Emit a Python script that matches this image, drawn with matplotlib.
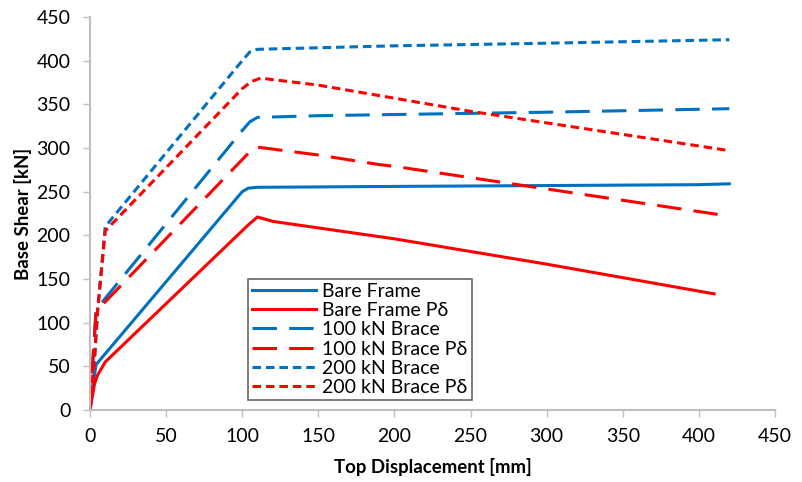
import matplotlib
matplotlib.use("Agg")
import matplotlib.pyplot as plt

plt.rcParams['font.family'] = ['Lato', 'DejaVu Sans']

# Data (Top displacement [mm], Base shear [kN])
bare_x = [0, 2, 4, 100, 104, 110, 200, 300, 400, 420]
bare_y = [0, 30, 52, 250, 254, 255, 256, 257, 258, 259]

bare_pd_x = [0, 3, 5, 10, 104, 110, 120, 200, 300, 410]
bare_pd_y = [0, 30, 40, 55, 212, 221, 216, 196, 167, 133]

b100_x = [0, 2, 4, 100, 105, 110, 150, 300, 420]
b100_y = [0, 60, 115, 320, 330, 335, 337, 341, 345]

b100_pd_x = [0, 2, 4, 104, 110, 150, 190, 200, 420]
b100_pd_y = [0, 60, 113, 294, 301, 292, 281, 279, 222]

b200_x = [0, 3, 5, 10, 100, 105, 110, 200, 300, 420]
b200_y = [0, 60, 115, 210, 400, 410, 413, 417, 420, 424]

b200_pd_x = [0, 3, 5, 10, 100, 106, 112, 150, 250, 420]
b200_pd_y = [0, 60, 113, 205, 368, 376, 380, 372, 342, 297]

x_ticks = [0, 50, 100, 150, 200, 250, 300, 350, 400, 450]
y_ticks = [0, 50, 100, 150, 200, 250, 300, 350, 400, 450]

blue = '#0070C0'
red = '#FF0000'

fig = plt.figure(figsize=(8.03, 4.82), dpi=100)
ax = fig.add_axes([90/803, (482-410)/482, 685/803, 393/482])

lw = 2.2
long_dash = (0, (8, 4))
short_dash = (0, (2.8, 1.6))
ax.plot(bare_x, bare_y, color=blue, lw=lw, label='Bare Frame')
ax.plot(bare_pd_x, bare_pd_y, color=red, lw=lw, label='Bare Frame P\u03b4')
ax.plot(b100_x, b100_y, color=blue, lw=lw, ls=long_dash, label='100 kN Brace')
ax.plot(b100_pd_x, b100_pd_y, color=red, lw=lw, ls=long_dash, label='100 kN Brace P\u03b4')
ax.plot(b200_x, b200_y, color=blue, lw=lw, ls=short_dash, label='200 kN Brace')
ax.plot(b200_pd_x, b200_pd_y, color=red, lw=lw, ls=short_dash, label='200 kN Brace P\u03b4')

ax.set_xlim(0, 450)
ax.set_ylim(0, 450)
ax.set_xticks(x_ticks)
ax.set_yticks(y_ticks)
ax.tick_params(labelsize=14, color='#BFBFBF', length=5, width=1)
ax.tick_params(axis='x', pad=8)
ax.tick_params(axis='y', pad=9)
for s in ['top', 'right']:
    ax.spines[s].set_visible(False)
for s in ['left', 'bottom']:
    ax.spines[s].set_color('#BFBFBF')
    ax.spines[s].set_linewidth(1.5)

ax.set_xlabel('Top Displacement [mm]', fontsize=13.4, fontweight='bold', labelpad=9)
ax.set_ylabel('Base Shear [kN]', fontsize=13.4, fontweight='bold', labelpad=3)

leg = ax.legend(loc='lower left', bbox_to_anchor=(0.231, 0.025, 0.327, 0.362),
                mode='expand', fontsize=14, handlelength=3.3, frameon=True,
                fancybox=False, edgecolor='#404040', borderaxespad=0,
                labelspacing=0.12, handletextpad=0.3, borderpad=0.2)
leg.get_frame().set_linewidth(1.2)

fig.savefig('out.png', dpi=100)
